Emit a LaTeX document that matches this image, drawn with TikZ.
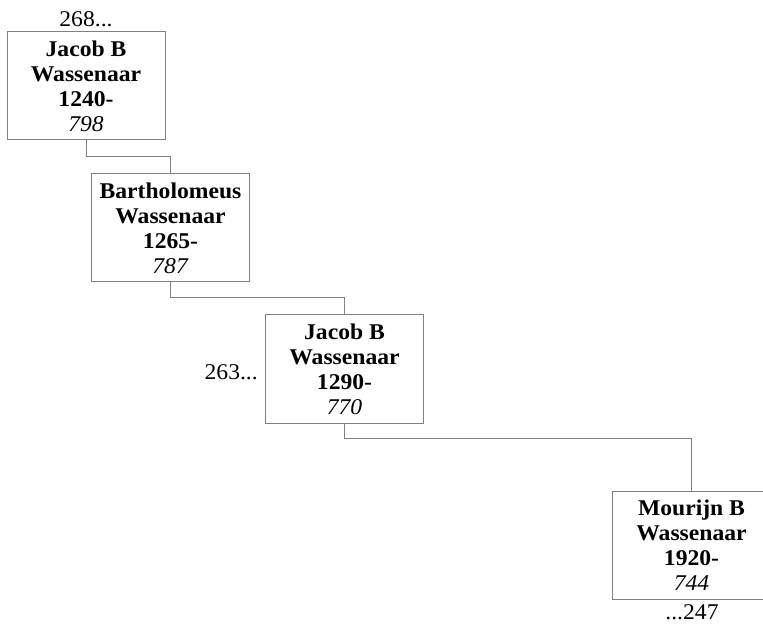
\documentclass[tikz,border=0pt]{standalone}
\usepackage{fontspec}
\setmainfont{Liberation Serif}[FakeStretch=1.05]
\begin{document}
\begin{tikzpicture}[x=1pt,y=-1pt,
  person/.style={draw=black!50, line width=1pt, rectangle, minimum width=158pt, minimum height=108pt,
    inner sep=0pt, align=center, font=\fontsize{22.5}{25}\selectfont},
  link/.style={draw=black!50, line width=1pt},
  lbl/.style={inner sep=0pt, font=\fontsize{22.5}{25}\selectfont}]
\useasboundingbox (0,0) rectangle (763,628);
\node[person] (b1) at (86,86) {\textbf{Jacob B}\\\textbf{Wassenaar}\\\textbf{1240-}\\\textit{798}};
\node[person] (b2) at (170.5,228) {\textbf{Bartholomeus}\\\textbf{Wassenaar}\\\textbf{1265-}\\\textit{787}};
\node[person] (b3) at (344.5,369) {\textbf{Jacob B}\\\textbf{Wassenaar}\\\textbf{1290-}\\\textit{770}};
\node[person] (b4) at (691.5,545) {\textbf{Mourijn B}\\\textbf{Wassenaar}\\\textbf{1920-}\\\textit{744}};
\draw[link] (b1.south) -- ([yshift=-16pt]b1.south) -| (b2.north);
\draw[link] (b2.south) -- ([yshift=-15pt]b2.south) -| (b3.north);
\draw[link] (b3.south) -- ([yshift=-15pt]b3.south) -| (b4.north);
\node[lbl, anchor=base] (t1) at (86,27) {268...};
\node[lbl, anchor=base east] (t3) at (258,379) {263...};
\node[lbl, anchor=base] (t4) at (692,619) {...247};
\end{tikzpicture}
\end{document}
